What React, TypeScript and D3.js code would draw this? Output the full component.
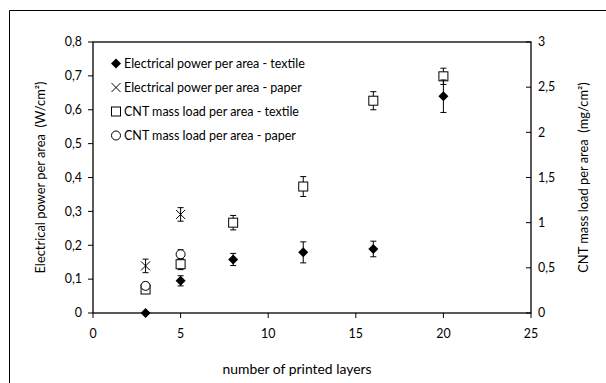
import React from "react";
import * as d3 from "d3";

const xTicks = [0, 5, 10, 15, 20, 25];
const leftTicks = [0, 0.1, 0.2, 0.3, 0.4, 0.5, 0.6, 0.7, 0.8];
const rightTicks = [0, 0.5, 1, 1.5, 2, 2.5, 3];

const layersTextile = [3, 5, 8, 12, 16, 20];
const layersPaper = [3, 5];

const powerTextile = [0, 0.095, 0.158, 0.179, 0.189, 0.64];
const powerTextileErr = [0, 0.015, 0.018, 0.031, 0.023, 0.048];
const powerPaper = [0.139, 0.291];
const powerPaperErr = [0.02, 0.02];

const cntTextile = [0.26, 0.54, 1.0, 1.4, 2.35, 2.62];
const cntTextileErr = [0.04, 0.06, 0.08, 0.11, 0.1, 0.09];
const cntPaper = [0.3, 0.65];
const cntPaperErr = [0.04, 0.05];

const legendLabels = [
  "Electrical power per area - textile",
  "Electrical power per area - paper",
  "CNT mass load per area - textile",
  "CNT mass load per area - paper",
];

const W = 606;
const H = 383;
const L = 93, R = 531, T = 42, B = 313;
const FONT = "Lato, 'Open Sans', sans-serif";
const TICK_FS = 12.4;
const LEG_FS = 12.5;
const TITLE_FS = 13.9;
const YTITLE_FS = 12.9;
const fmt = (v: number) => String(v).replace(".", ",");

type Marker = "diamond" | "x" | "square" | "circle";

function MarkerShape({ type, cx, cy }: { type: Marker; cx: number; cy: number }) {
  if (type === "diamond") {
    const s = 5;
    return <path d={`M${cx},${cy - s}L${cx + s},${cy}L${cx},${cy + s}L${cx - s},${cy}Z`} fill="#000" />;
  }
  if (type === "x") {
    const s = 4.5;
    return (
      <path d={`M${cx - s},${cy - s}L${cx + s},${cy + s}M${cx - s},${cy + s}L${cx + s},${cy - s}`} stroke="#000" strokeWidth={1} fill="none" />
    );
  }
  if (type === "square") {
    const s = 4.5;
    return <rect x={cx - s} y={cy - s} width={2 * s} height={2 * s} fill="#fff" stroke="#000" strokeWidth={1} />;
  }
  return <circle cx={cx} cy={cy} r={4.5} fill="#fff" stroke="#000" strokeWidth={1} />;
}

export default function App() {
  const x = d3.scaleLinear().domain([0, 25]).range([L, R]);
  const yL = d3.scaleLinear().domain([0, 0.8]).range([B, T]);
  const yR = d3.scaleLinear().domain([0, 3]).range([B, T]);

  const series: { xs: number[]; ys: number[]; es: number[]; scale: d3.ScaleLinear<number, number>; m: Marker }[] = [
    { xs: layersTextile, ys: cntTextile, es: cntTextileErr, scale: yR, m: "square" },
    { xs: layersPaper, ys: cntPaper, es: cntPaperErr, scale: yR, m: "circle" },
    { xs: layersPaper, ys: powerPaper, es: powerPaperErr, scale: yL, m: "x" },
    { xs: layersTextile, ys: powerTextile, es: powerTextileErr, scale: yL, m: "diamond" },
  ];

  const legendMarkers: Marker[] = ["diamond", "x", "square", "circle"];

  return (
    <svg width={W} height={H} style={{ position: "fixed", left: 0, top: 0, background: "#fff" }} fontFamily={FONT}>
      <rect x={0} y={0} width={W} height={H} fill="#fff" />
      {/* outer chart border */}
      <path d={`M9.5,${H + 2}V10.5H${W + 2}`} stroke="#000" strokeWidth={1} fill="none" />
      {/* plot frame */}
      <rect x={L} y={T} width={R - L} height={B - T} fill="none" stroke="#000" strokeWidth={1.3} />

      {/* x ticks */}
      {xTicks.map((t) => (
        <g key={"xt" + t}>
          <line x1={x(t)} x2={x(t)} y1={B} y2={B + 5} stroke="#000" />
          <text x={x(t)} y={B + 25} textAnchor="middle" fontSize={TICK_FS} fill="#000">{fmt(t)}</text>
        </g>
      ))}
      {/* left ticks */}
      {leftTicks.map((t) => (
        <g key={"lt" + t}>
          <line x1={L - 5} x2={L} y1={yL(t)} y2={yL(t)} stroke="#000" />
          <text x={82} y={yL(t) + 4.3} textAnchor="end" fontSize={TICK_FS} fill="#000">{fmt(t)}</text>
        </g>
      ))}
      {/* right ticks */}
      {rightTicks.map((t) => (
        <g key={"rt" + t}>
          <line x1={R - 5} x2={R} y1={yR(t)} y2={yR(t)} stroke="#000" />
          <text x={538} y={yR(t) + 4.3} textAnchor="start" fontSize={TICK_FS} fill="#000">{fmt(t)}</text>
        </g>
      ))}

      {/* axis titles */}
      <text x={297} y={374} textAnchor="middle" fontSize={TITLE_FS} fill="#000">number of printed layers</text>
      <text transform={`translate(44.5,${(T + B) / 2}) rotate(-90)`} textAnchor="middle" fontSize={YTITLE_FS} fill="#000" style={{ whiteSpace: "pre" }}>
        {"Electrical power per area  (W/cm²)"}
      </text>
      <text transform={`translate(587.5,${(T + B) / 2}) rotate(-90)`} textAnchor="middle" fontSize={YTITLE_FS} fill="#000" style={{ whiteSpace: "pre" }}>
        {"CNT mass load per area  (mg/cm²)"}
      </text>

      {/* series */}
      {series.map((s, si) => (
        <g key={"s" + si}>
          {s.xs.map((xv, i) => {
            const cx = x(xv);
            const y0 = s.scale(s.ys[i] - s.es[i]);
            const y1 = s.scale(s.ys[i] + s.es[i]);
            return s.es[i] > 0 ? (
              <g key={"e" + i} stroke="#000" strokeWidth={1}>
                <line x1={cx} x2={cx} y1={y0} y2={y1} />
                <line x1={cx - 3} x2={cx + 3} y1={y0} y2={y0} />
                <line x1={cx - 3} x2={cx + 3} y1={y1} y2={y1} />
              </g>
            ) : null;
          })}
          {s.xs.map((xv, i) => (
            <MarkerShape key={"m" + i} type={s.m} cx={x(xv)} cy={s.scale(s.ys[i])} />
          ))}
        </g>
      ))}

      {/* legend */}
      {legendLabels.map((lab, i) => (
        <g key={"lg" + i}>
          <MarkerShape type={legendMarkers[i]} cx={116} cy={63.5 + i * 24} />
          <text x={124} y={63.5 + i * 24 + 4.3} fontSize={LEG_FS} fill="#000">{lab}</text>
        </g>
      ))}
    </svg>
  );
}
